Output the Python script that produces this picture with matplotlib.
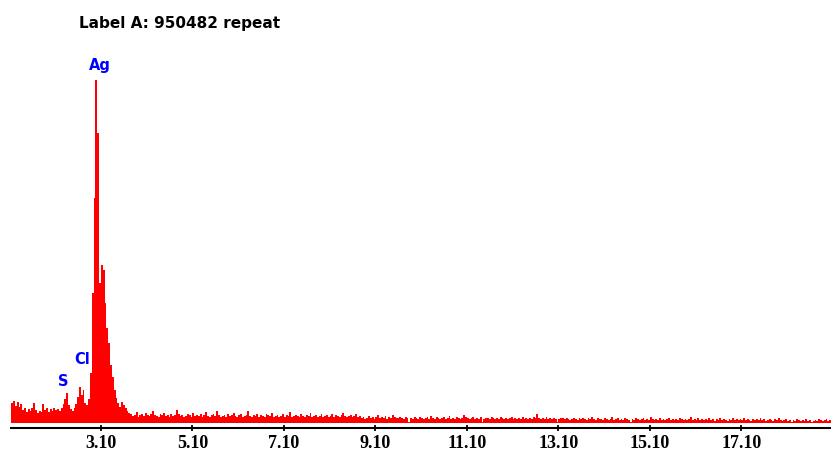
import matplotlib
matplotlib.use("Agg")
import matplotlib.pyplot as plt
import numpy as np

# ── spectrum: 0.04 keV channels starting at 1.14 keV ──────────────────────────
start_kev = 1.14
channel_kev = 0.04

counts_low = [20, 22, 17, 21, 16, 19, 13, 15, 11, 14,
              12, 15, 20, 13, 10, 12, 11, 19, 13, 15,
              11, 14, 12, 15, 13, 14, 12, 15, 19, 24,
              30, 18, 14, 12, 15, 19, 26, 36, 28, 33,
              20, 18, 24, 50, 130, 225, 343, 290, 140, 158,
              153, 120, 95, 80, 58, 46, 33, 25, 20, 16,
              21, 18, 15, 12, 10]

counts_mid = [9, 7, 8, 11, 6, 8, 9, 7, 10, 8,
              7, 9, 12, 8, 7, 6, 9, 8, 10, 7,
              8, 6, 9, 7, 8, 13, 9, 7, 8, 6,
              7, 9, 8, 6, 10, 7, 8, 7, 9, 6,
              8, 11, 7, 6, 8, 9, 7, 12, 8, 6,
              7, 8, 6, 9, 7, 8, 10, 7, 6, 8,
              9, 6, 7, 8, 12, 7, 6, 8, 7, 9,
              6, 8, 7, 6, 9, 8, 7, 10, 6, 7,
              8, 6, 7, 9, 6, 8, 7, 11, 6, 7,
              8, 7, 6, 9, 7, 6, 8, 7, 10, 6,
              7, 8, 6, 7, 9, 6, 7, 8, 6, 7,
              9, 6, 8, 7, 6, 8, 10, 7, 6, 7,
              8, 6, 7, 9, 6, 7]

counts_upper = [5, 6, 4, 5, 7, 5, 6, 4, 6, 8,
                5, 6, 5, 7, 4, 6, 5, 8, 6, 5,
                5, 6, 5, 4, 6, 5, 1, 5, 4, 6,
                5, 4, 6, 5, 4, 5, 6, 4, 7, 5,
                4, 6, 5, 4, 5, 6, 4, 5, 7, 4,
                5, 4, 6, 5, 4, 5, 8, 6, 5, 4,
                5, 6, 4, 5, 4, 6, 1, 4, 5, 5,
                4, 6, 5, 4, 5, 4, 6, 5, 4, 5,
                4, 5, 6, 4, 5, 4, 5, 4, 6, 4,
                5, 4, 5, 4, 6, 5, 9, 5, 4, 5,
                4, 6, 4, 5, 4, 5, 4, 1, 4, 5,
                5, 4, 5, 4, 3, 4, 5, 4, 3, 5,
                4, 5, 4, 3, 5, 4, 6, 4, 3, 5,
                4]

counts_high = [4, 3, 5, 4, 3, 4, 6, 3, 4, 5,
               3, 4, 3, 5, 4, 3, 1, 4, 3, 5,
               4, 3, 4, 5, 3, 4, 3, 6, 4, 3,
               4, 3, 5, 3, 4, 3, 4, 5, 3, 4,
               3, 4, 3, 5, 4, 3, 4, 3, 4, 6,
               3, 4, 3, 5, 3, 4, 3, 4, 3, 5,
               3, 4, 2, 4, 3, 5, 3, 4, 3, 2,
               4, 3, 5, 3, 4, 3, 4, 3, 5, 3,
               4, 3, 2, 4, 3, 4, 3, 5, 3, 4,
               2, 3, 4, 3, 2, 4, 3, 5, 3, 2,
               3, 4, 2, 3, 1, 3, 2, 4, 3, 2,
               3, 2, 4, 2, 3, 1, 2, 3, 2, 4,
               3, 2, 3, 4, 2, 3]

elements = ["S", "Cl", "Ag"]
tick_kev = [3.10, 5.10, 7.10, 9.10, 11.10, 13.10, 15.10, 17.10]
title = "Label A: 950482 repeat"

counts = np.array(counts_low + counts_mid + counts_upper + counts_high, dtype=float)
edges = start_kev + channel_kev * np.arange(len(counts) + 1)

# ── figure ────────────────────────────────────────────────────────────────────
fig = plt.figure(figsize=(8.31, 4.55), dpi=100)
fig.patch.set_facecolor("white")
ax = fig.add_axes([0.0136, 0.060, 0.9864, 0.7642])

ax.stairs(counts, edges, baseline=0, fill=True, color="#ff0000", lw=0)

ax.set_xlim(edges[0], edges[-1])
ax.set_ylim(-4.7, counts.max())

for side in ["left", "right", "top"]:
    ax.spines[side].set_visible(False)
ax.spines["bottom"].set_linewidth(1.5)
ax.spines["bottom"].set_color("black")
ax.set_yticks([])
ax.set_xticks(tick_kev)
ax.set_xticklabels([f"{t:.2f}" for t in tick_kev],
                   fontfamily="Liberation Serif", fontweight="bold", fontsize=13)
ax.tick_params(axis="x", direction="inout", length=3.9, width=1.3,
               color="black", pad=3)

# element markers (S / Cl / Ag) above their lines
label_pos = [(2.27, 41), (2.69, 63), (3.07, 357)]
for name, (ex, ey) in zip(elements, label_pos):
    ax.text(ex, ey, name, ha="center", va="center", color="#0000ff",
            fontsize=10.5, fontweight="bold", clip_on=False)

fig.text(79 / 831, (455 - 28) / 455, title, ha="left", va="baseline",
         fontsize=11, fontweight="bold", color="black")

plt.savefig("out.png", dpi=100, facecolor=fig.get_facecolor())
plt.close()
